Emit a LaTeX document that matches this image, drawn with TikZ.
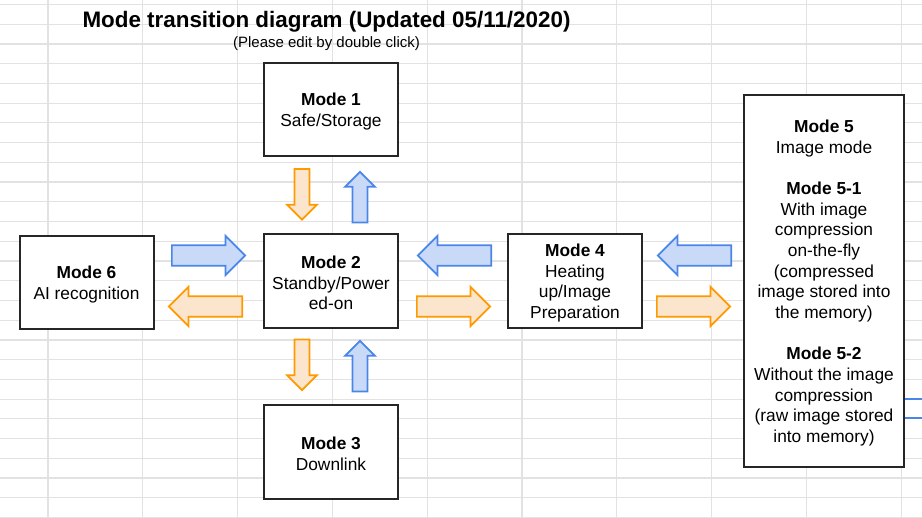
\documentclass[tikz,border=0pt]{standalone}
\usepackage{fontspec}
\setmainfont{Liberation Sans}
\usetikzlibrary{calc,shapes.arrows}
\definecolor{gridgray}{HTML}{E2E2E2}
\definecolor{orangeline}{HTML}{FF9900}
\definecolor{orangefill}{HTML}{FCE5CD}
\definecolor{blueline}{HTML}{4A86E8}
\definecolor{bluefill}{HTML}{C9DAF8}
\newcommand{\modehead}[1]{\rule{0pt}{12.2pt}\textbf{#1}}

\begin{document}
\begin{tikzpicture}[x=0.75pt,y=-0.75pt,
  gridline/.style={draw=gridgray,line width=0.9pt},
  modebox/.style={draw=black!85,line width=1.5pt,fill=white,align=center,inner sep=2pt,
    minimum width=100.5pt,minimum height=70pt,font=\fontsize{13}{15.5}\selectfont},
  harrow/.style={single arrow,anchor=tail,line width=1.3pt,inner sep=0pt,inner ysep=7.1pt,
    minimum height=55pt,minimum width=28.5pt,single arrow head extend=7.1pt},
  varrow/.style={single arrow,anchor=tail,line width=1.3pt,inner sep=0pt,inner ysep=4.9pt,
    minimum height=38pt,minimum width=21pt,single arrow head extend=5.6pt},
  bluea/.style={draw=blueline,fill=bluefill},
  orangea/.style={draw=orangeline,fill=orangefill}]
\useasboundingbox (0,0) rectangle (922,518);
\fill[white] (0,0) rectangle (922,518);
\foreach \gx in {0,...,9}
  \draw[gridline] ({48+94.8*\gx},0) -- ({48+94.8*\gx},518);
\foreach \gy in {0,...,26}
  \draw[gridline] (0,{4.5+19.73*\gy}) -- (922,{4.5+19.73*\gy});

\node[anchor=base,font=\fontsize{16.8}{20}\selectfont\bfseries] (title) at (326.5,27) {Mode transition diagram (Updated 05/11/2020)};
\node[anchor=base,font=\fontsize{11.25}{13}\selectfont] (hint) at (326.5,47.5) {(Please edit by double click)};

\node[modebox] (m1) at (331,109.5) {\modehead{Mode 1}\\Safe/Storage};
\node[modebox] (m2) at (331,281) {\modehead{Mode 2}\\Standby/Power\\ed-on};
\node[modebox] (m3) at (331,452) {\modehead{Mode 3}\\Downlink};
\node[modebox] (m6) at (86.5,282.5) {\modehead{Mode 6}\\AI recognition};
\node[modebox] (m4) at (575,281) {\modehead{Mode 4}\\Heating\\up/Image\\Preparation};
\node[modebox,minimum width=120pt,minimum height=279pt] (m5) at (824,281) {\modehead{Mode 5}\\Image mode\\[15.5pt]
  \textbf{Mode 5-1}\\With image\\compression\\on-the-fly\\(compressed\\image stored into\\the memory)\\[15.5pt]
  \textbf{Mode 5-2}\\Without the image\\compression\\(raw image stored\\into memory)};

\node[varrow,orangea,rotate=-90] (a12) at ($(m1.south)+(-29,11)$) {};
\node[varrow,bluea,rotate=90] (a21) at ($(m2.north)+(29,-10)$) {};
\node[varrow,orangea,rotate=-90] (a23) at ($(m2.south)+(-29,10)$) {};
\node[varrow,bluea,rotate=90] (a32) at ($(m3.north)+(29,-12)$) {};
\node[harrow,bluea] (a62) at ($(m6.east)+(16.5,-27)$) {};
\node[harrow,orangea,rotate=180] (a26) at ($(m2.west)+(-20,25.5)$) {};
\node[harrow,bluea,rotate=180] (a42) at ($(m4.west)+(-15,-25.5)$) {};
\node[harrow,orangea] (a24) at ($(m2.east)+(17,25.5)$) {};
\node[harrow,bluea,rotate=180] (a54) at ($(m5.west)+(-11,-25.5)$) {};
\node[harrow,orangea] (a45) at ($(m4.east)+(13,25.5)$) {};

\coordinate (r1) at (922,399);
\coordinate (r2) at (922,418);
\draw[blueline,line width=1.2pt] (m5.east |- r1) -- (r1);
\draw[blueline,line width=1.2pt] (m5.east |- r2) -- (r2);
\end{tikzpicture}
\end{document}
